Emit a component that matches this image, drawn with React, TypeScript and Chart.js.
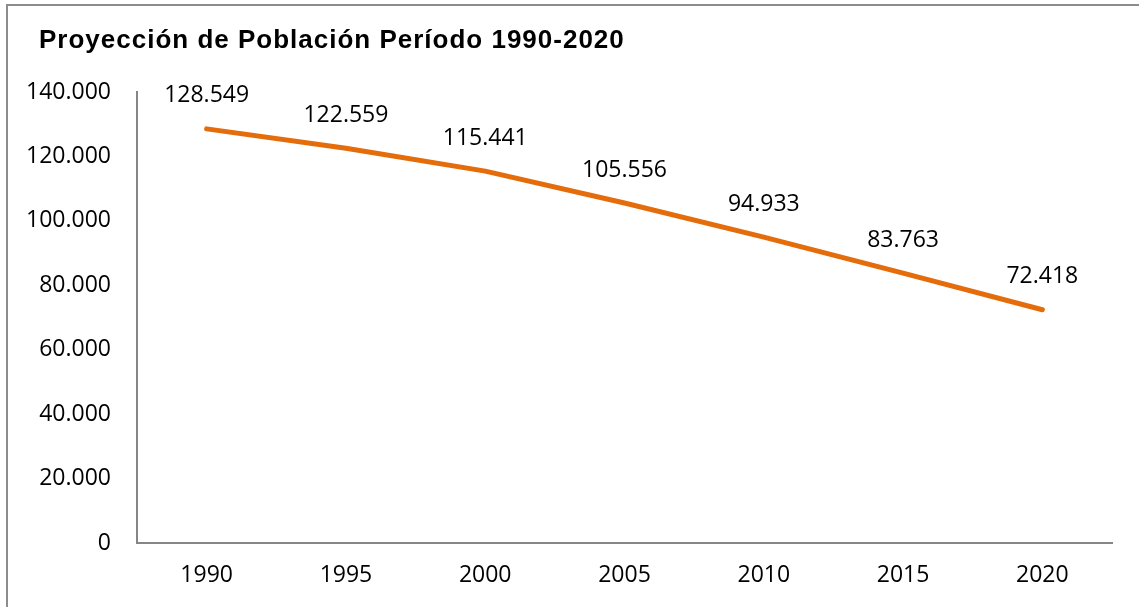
import React, { useEffect, useRef } from 'react';
import { Chart, registerables } from 'chart.js';

Chart.register(...registerables);

const years: string[] = ['1990', '1995', '2000', '2005', '2010', '2015', '2020'];
const population: number[] = [128549, 122559, 115441, 105556, 94933, 83763, 72418];
const yMin = 0;
const yMax = 140000;
const yStep = 20000;
const titleText = 'Proyección de Población Período 1990-2020';

const fmt = (v: number): string =>
  Math.round(v).toString().replace(/\B(?=(\d{3})+(?!\d))/g, '.');

const NUM_FONT = "'Open Sans', 'Noto Sans', sans-serif";

const framePlugin = {
  id: 'frameLines',
  beforeDraw(chart: any) {
    const ctx = chart.ctx as CanvasRenderingContext2D;
    ctx.save();
    ctx.fillStyle = '#ffffff';
    ctx.fillRect(0, 0, chart.width, chart.height);
    ctx.strokeStyle = '#8c8c8c';
    ctx.lineWidth = 2;
    ctx.beginPath();
    ctx.moveTo(7, chart.height);
    ctx.lineTo(7, 5);
    ctx.lineTo(chart.width, 5);
    ctx.stroke();
    ctx.restore();
  },
};

const titlePlugin = {
  id: 'customTitle',
  afterDraw(chart: any) {
    const ctx = chart.ctx as CanvasRenderingContext2D;
    ctx.save();
    ctx.font = "bold 26px 'Liberation Sans', Arial, sans-serif";
    (ctx as any).letterSpacing = '1px';
    ctx.fillStyle = '#000000';
    ctx.textAlign = 'left';
    ctx.textBaseline = 'alphabetic';
    ctx.fillText(titleText, 39, 48);
    ctx.restore();
  },
};

const labelPlugin = {
  id: 'pointValueLabels',
  afterDatasetsDraw(chart: any) {
    const ctx = chart.ctx as CanvasRenderingContext2D;
    const meta = chart.getDatasetMeta(0);
    const data = chart.data.datasets[0].data as number[];
    ctx.save();
    ctx.font = `23px ${NUM_FONT}`;
    ctx.fillStyle = '#000000';
    ctx.textAlign = 'center';
    ctx.textBaseline = 'middle';
    meta.data.forEach((pt: any, i: number) => {
      ctx.fillText(fmt(data[i]), pt.x, pt.y - 33);
    });
    ctx.restore();
  },
};

export default function App() {
  const canvasRef = useRef<HTMLCanvasElement | null>(null);

  useEffect(() => {
    const canvas = canvasRef.current;
    if (!canvas) return;
    const chart = new Chart(canvas, {
      type: 'line',
      data: {
        labels: years,
        datasets: [
          {
            label: 'Población',
            data: population,
            borderColor: '#E46C0A',
            backgroundColor: '#E46C0A',
            borderWidth: 5,
            borderCapStyle: 'round',
            borderJoinStyle: 'round',
            pointRadius: 0,
            pointHoverRadius: 0,
            tension: 0,
            fill: false,
          },
        ],
      },
      options: {
        responsive: false,
        animation: false,
        devicePixelRatio: 1,
        layout: { padding: { left: 0, top: 92, right: 27, bottom: 0 } },
        plugins: {
          legend: { display: false },
          title: { display: false },
          tooltip: { enabled: false },
        },
        scales: {
          x: {
            type: 'category',
            offset: true,
            grid: { display: false, drawTicks: false },
            border: { display: true, color: '#868686', width: 2 },
            ticks: {
              color: '#000000',
              padding: 19,
              font: { family: NUM_FONT, size: 23 },
              maxRotation: 0,
            },
            afterFit(scale: any) {
              scale.height = 64;
            },
          },
          y: {
            min: yMin,
            max: yMax,
            grid: { display: false, drawTicks: false },
            border: { display: true, color: '#868686', width: 2 },
            ticks: {
              stepSize: yStep,
              color: '#000000',
              padding: 26,
              font: { family: NUM_FONT, size: 23 },
              callback: (v: any) => fmt(Number(v)),
            },
            afterFit(scale: any) {
              scale.width = 137;
            },
          },
        },
      },
      plugins: [framePlugin, titlePlugin, labelPlugin],
    });
    return () => chart.destroy();
  }, []);

  return (
    <div style={{ position: 'fixed', left: 0, top: 0, width: 1139, height: 607, overflow: 'hidden', background: '#ffffff' }}>
      <canvas ref={canvasRef} width={1139} height={607} style={{ position: 'absolute', left: 0, top: 0 }} />
    </div>
  );
}
